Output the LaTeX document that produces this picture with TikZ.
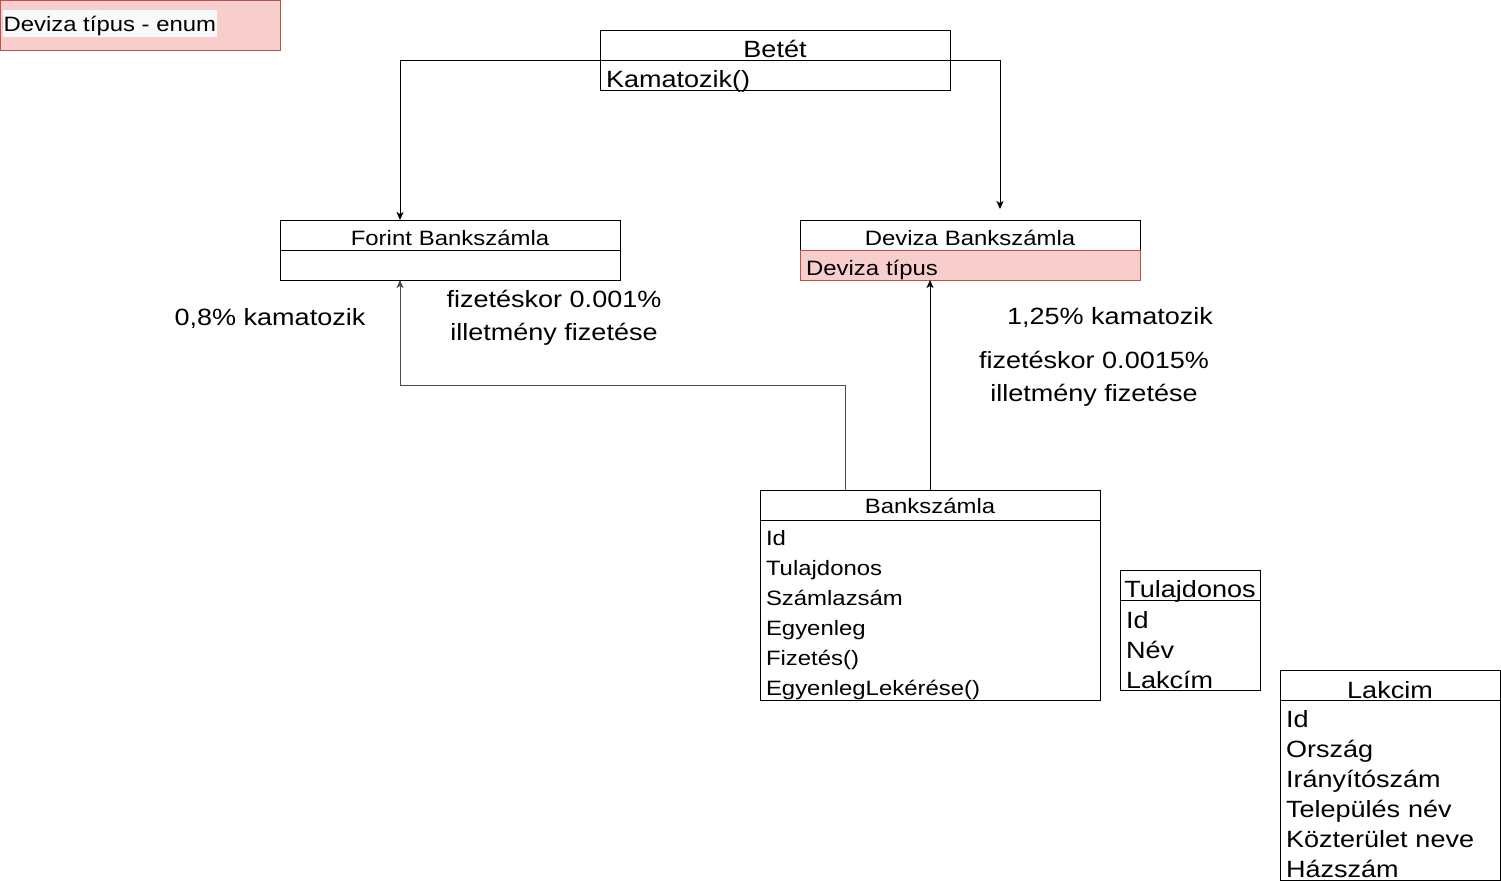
\documentclass[tikz,border=0pt]{standalone}
\usepackage{fontspec}
\setmainfont{Liberation Sans}[FakeStretch=1.15]
\usetikzlibrary{arrows.meta,positioning}
\definecolor{enumfill}{HTML}{F8CECC}
\definecolor{enumline}{HTML}{B85450}
\definecolor{lblback}{HTML}{F8F9FA}
\newcommand\fsmall{\fontsize{20.8}{30}\selectfont}
\newcommand\flarge{\fontsize{23.5}{30}\selectfont}
\tikzset{
  clshead/.style={draw, inner sep=0pt, outer sep=0pt, align=center, text width=#1},
  clsbody/.style={draw, inner xsep=6pt, inner ysep=0pt, outer sep=0pt, align=left, text width={#1-12pt}},
  note/.style={inner sep=0pt, align=center, font=\fontsize{23.5}{33}\selectfont},
  conn/.style={-{Stealth[length=8pt,width=7pt,inset=2pt]}}
}
\begin{document}
\begin{tikzpicture}[x=1pt, y=-1pt, line width=1pt]
    \useasboundingbox (0,0) rectangle (1501,881);
    \node[draw=enumline, fill=enumfill, minimum width=280pt, minimum height=50pt, inner sep=0pt, outer sep=0pt, anchor=north west] (enumBox) at (0,0) {};
    \node[fill=lblback, font=\fsmall, inner xsep=1pt, inner ysep=0pt, text height=21pt, text depth=6pt, anchor=base west] (enumLbl) at (2,31) {Deviza típus - enum};

    \node[clshead=350pt, font=\flarge, text height=27pt, text depth=3pt, anchor=north west] (betetH) at (600,30) {Betét};
    \node[clsbody=350pt, font=\flarge, text height=27pt, text depth=3pt, below=0pt of betetH] (betetB) {Kamatozik()};

    \node[clshead=340pt, font=\fsmall, text height=25pt, text depth=5pt, anchor=north west] (forintH) at (280,220) {Forint Bankszámla};
    \node[clsbody=340pt, minimum height=30pt, below=0pt of forintH] (forintB) {};

    \node[clshead=340pt, font=\fsmall, text height=25pt, text depth=5pt, anchor=north west] (devizaH) at (800,220) {Deviza Bankszámla};
    \node[clsbody=340pt, font=\fsmall, draw=enumline, fill=enumfill, text height=25pt, text depth=5pt, below=0pt of devizaH] (devizaB) {Deviza típus};

    \node[clshead=340pt, font=\fsmall, text height=23pt, text depth=7pt, anchor=north west] (bankH) at (760,490) {Bankszámla};
    \node[clsbody=340pt, font=\fsmall, text height=25pt, text depth=155pt, below=0pt of bankH] (bankB)
        {Id\\Tulajdonos\\Számlazsám\\Egyenleg\\Fizetés()\\EgyenlegLekérése()};

    \node[clshead=140pt, font=\flarge, text height=27pt, text depth=3pt, anchor=north west] (tulajH) at (1120,570) {Tulajdonos};
    \node[clsbody=140pt, font=\flarge, text height=28pt, text depth=62pt, below=0pt of tulajH] (tulajB) {Id\\Név\\Lakcím};

    \node[clshead=220pt, font=\flarge, text height=28pt, text depth=2pt, anchor=north west] (lakcimH) at (1280,670) {Lakcim};
    \node[clsbody=220pt, font=\flarge, text height=27pt, text depth=153pt, below=0pt of lakcimH] (lakcimB)
        {Id\\Ország\\Irányítószám\\Település név\\Közterület neve\\Házszám};

    \node[note, anchor=base] (kamatF) at (270,325) {0,8\% kamatozik};
    \node[note, anchor=base] (fizetF) at (554,340) {fizetéskor 0.001\%\\illetmény fizetése};
    \node[note, anchor=base] (kamatD) at (1110,324) {1,25\% kamatozik};
    \node[note, anchor=base] (fizetD) at (1094,401) {fizetéskor 0.0015\%\\illetmény fizetése};

    \draw[conn] (betetB.north west) -| ([xshift=120pt]forintH.north west);
    \draw[conn] (betetB.north east) -| ([xshift=200pt,yshift=11pt]devizaH.north west);
    \coordinate (elbow) at (845,385);
    \draw[conn, draw=black!70] ([xshift=85pt]bankH.north west) -- (elbow) -| ([xshift=120pt]forintB.south west);
    \draw[conn] (bankH.north) -- (bankH.north |- devizaB.south);
\end{tikzpicture}
\end{document}
